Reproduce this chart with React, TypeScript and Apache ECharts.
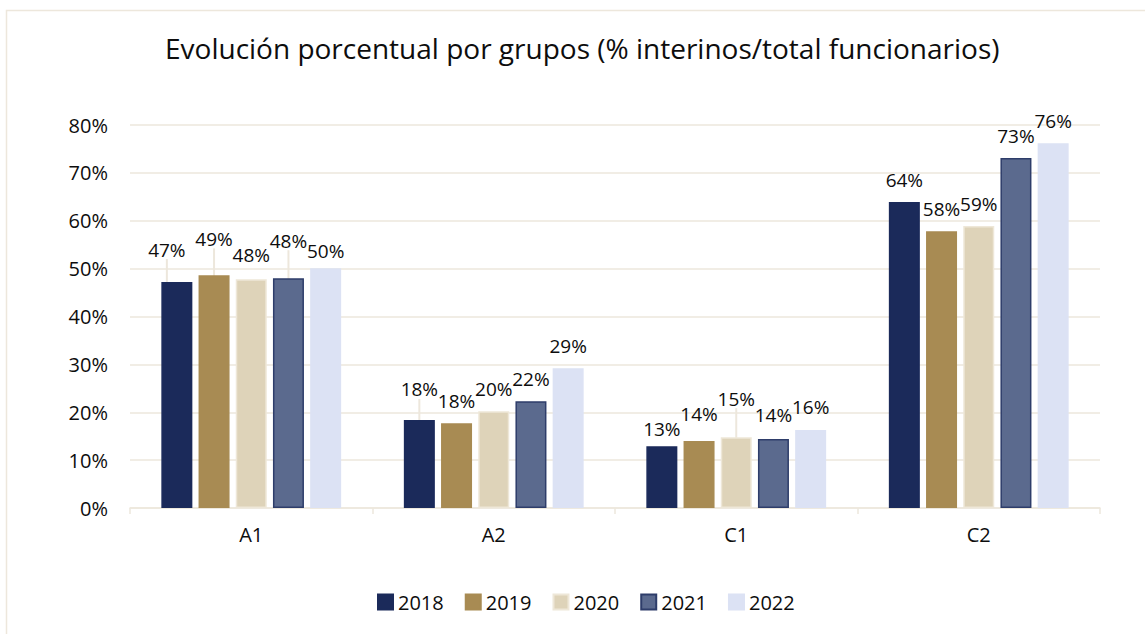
import React, { useEffect, useRef } from "react";
import * as echarts from "echarts";

const categories = ["A1", "A2", "C1", "C2"];
const years = ["2018", "2019", "2020", "2021", "2022"];
const v2018 = [47.2, 18.4, 12.9, 63.9];
const v2019 = [48.6, 17.7, 14.0, 57.8];
const v2020 = [47.8, 20.2, 14.8, 58.9];
const v2021 = [48.0, 22.3, 14.4, 73.1];
const v2022 = [50.1, 29.2, 16.3, 76.2];
const yTicks = [0, 10, 20, 30, 40, 50, 60, 70, 80];

const seriesValues = [v2018, v2019, v2020, v2021, v2022];
const colors = ["#1B2A5A", "#A88B53", "#DED3B9", "#5B6A8E", "#DCE2F4"];
const borders = ["#1B2A5A", "#A88B53", "#EEE7D8", "#2E3D6A", "#DCE2F4"];

// manual label nudges (series x category), like the moved Excel labels
const labelNudge: number[][][] = [
  [[-10, -10], [0, -8], [0, 5], [0, 0]],
  [[0, -14], [0, 0], [0, -4], [0, 0]],
  [[0, -2], [0, 0], [0, -16], [0, 0]],
  [[0, -15], [0, 0], [0, -2], [0, 0]],
  [[0, 5], [0, 0], [0, 0], [0, 0]],
];

const FONT = "'Open Sans', 'Noto Sans', sans-serif";
const INK = "#0d0d0d";

export default function App() {
  const ref = useRef<HTMLDivElement>(null);
  useEffect(() => {
    if (!ref.current) return;
    const chart = echarts.init(ref.current, undefined, { renderer: "svg" });
    chart.setOption({
      animation: false,
      backgroundColor: "#ffffff",
      textStyle: { fontFamily: FONT },
      graphic: [
        {
          type: "rect",
          shape: { x: 6.5, y: 10.5, width: 1200, height: 700 },
          style: { fill: "none", stroke: "#EDE7DC", lineWidth: 1.5 },
          silent: true,
        },
      ],
      title: {
        text: "Evolución porcentual por grupos (% interinos/total funcionarios)",
        left: 160,
        top: 29,
        textStyle: { fontFamily: FONT, fontSize: 28, fontWeight: "normal", color: INK },
      },
      legend: {
        bottom: 17,
        left: 372,
        icon: "rect",
        itemWidth: 15,
        itemHeight: 15,
        itemGap: 21,
        textStyle: { fontFamily: FONT, fontSize: 20, color: INK },
        data: years,
      },
      grid: { left: 130, right: 45, top: 125, bottom: 126 },
      xAxis: {
        type: "category",
        data: categories,
        axisLine: { lineStyle: { color: "#EDE7DC", width: 1.5 } },
        axisTick: { show: true, length: 6, lineStyle: { color: "#EDE7DC", width: 1.5 } },
        axisLabel: { fontFamily: FONT, fontSize: 20, color: INK, margin: 16 },
      },
      yAxis: {
        type: "value",
        min: 0,
        max: 80,
        interval: 10,
        axisLine: { show: false },
        axisTick: { show: false },
        splitLine: { lineStyle: { color: "#EDE7DC", width: 1.5 } },
        axisLabel: {
          fontFamily: FONT,
          fontSize: 20,
          color: INK,
          margin: 22,
          formatter: (v: number) => (yTicks.includes(v) ? `${v}%` : ""),
        },
      },
      series: years.map((y, i) => ({
        name: y,
        type: "bar",
        data: seriesValues[i].map((v, j) => {
          const n = labelNudge[i][j];
          return {
            value: v,
            labelLine: { show: Math.abs(n[0]) + Math.abs(n[1]) >= 8 },
          };
        }),
        barWidth: 31,
        barGap: "20%",
        itemStyle: { color: colors[i], borderColor: borders[i], borderWidth: 1.5 },
        label: {
          show: true,
          position: "top",
          distance: 13,
          fontFamily: FONT,
          fontSize: 19,
          color: INK,
          formatter: (p: any) => `${Math.round(p.value)}%`,
        },
        labelLine: { show: false, lineStyle: { color: "#EDE7DC", width: 2 } },
        labelLayout: (p: any) => {
          const n = labelNudge[i][p.dataIndex];
          return { dx: n[0], dy: n[1] };
        },
      })),
    });
    return () => chart.dispose();
  }, []);
  return (
    <div
      ref={ref}
      style={{ position: "fixed", left: 0, top: 0, width: 1145, height: 634 }}
    />
  );
}
